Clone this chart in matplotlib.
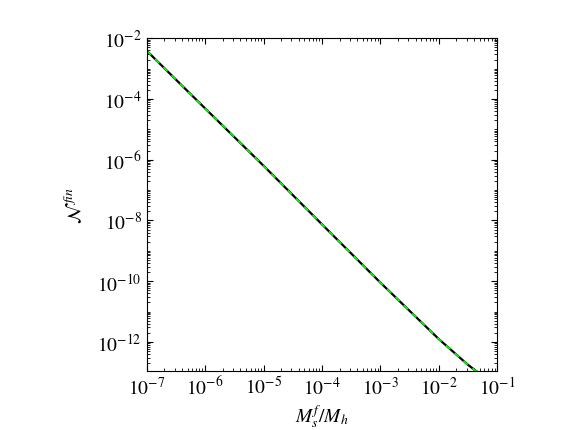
import numpy as np
import matplotlib
matplotlib.use("Agg")
import matplotlib.pyplot as plt
from matplotlib.ticker import LogLocator, NullFormatter

# values (log10 of x and y)
log_mass_ratio = [-7.0, -6.0, -5.0, -4.0, -3.0, -2.0, -1.5, -1.37, -1.3]
log_n_fin = [-2.41, -4.31, -6.20, -8.13, -10.05, -11.91, -12.76, -12.95, -13.05]

x = 10.0 ** np.array(log_mass_ratio)
y = 10.0 ** np.array(log_n_fin)

plt.rcParams["font.family"] = "STIXGeneral"
plt.rcParams["mathtext.fontset"] = "stix"

fig = plt.figure(figsize=(5.76, 4.31), dpi=100)
ax = fig.add_axes([0.2547, 0.1376, 0.6087, 0.7712])

ax.plot(x, y, color="black", lw=1.6, solid_capstyle="butt")
ax.plot(x, y, color="lime", lw=1.2, ls=(0, (3.5, 3.5)))

ax.set_xscale("log")
ax.set_yscale("log")
ax.set_xlim(1e-7, 1e-1)
ax.set_ylim(10 ** -12.95, 1e-2)

ax.xaxis.set_major_locator(LogLocator(base=10, numticks=20))
ax.xaxis.set_minor_locator(LogLocator(base=10, subs=np.arange(2, 10), numticks=20))
ax.xaxis.set_minor_formatter(NullFormatter())
ax.set_yticks([10.0 ** k for k in range(-12, -1, 2)])
ax.yaxis.set_minor_locator(LogLocator(base=10, subs=np.arange(1, 10), numticks=40))
ax.yaxis.set_minor_formatter(NullFormatter())

ax.tick_params(which="both", direction="in", top=True, right=True, labelsize=14)
ax.tick_params(which="major", length=4.5, width=0.8)
ax.tick_params(which="minor", length=2.2, width=0.6)

ax.set_xlabel(r"$M_s^f/M_h$", fontsize=14, labelpad=3)
ax.set_ylabel(r"$\mathcal{N}^{\:fin}$", fontsize=14, labelpad=9)

fig.savefig("out.png", dpi=100)
